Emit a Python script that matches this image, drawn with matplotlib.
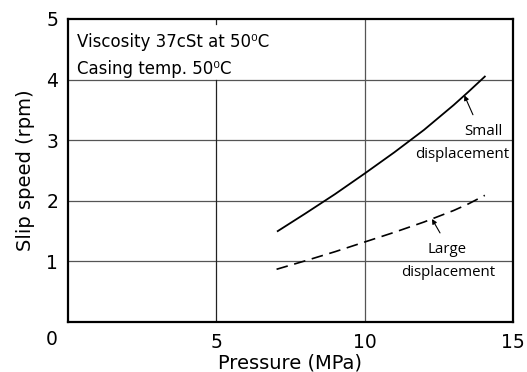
import matplotlib
matplotlib.use("Agg")
import matplotlib.pyplot as plt

# values
small_p = [7.07, 8.0, 9.0, 10.0, 11.0, 12.0, 13.0, 13.5, 14.05]
small_v = [1.50, 1.79, 2.11, 2.45, 2.80, 3.17, 3.58, 3.80, 4.05]
large_p = [7.03, 8.0, 9.0, 10.0, 11.0, 12.0, 13.0, 13.5, 14.05]
large_v = [0.87, 1.01, 1.16, 1.32, 1.48, 1.65, 1.84, 1.95, 2.09]
x_ticks = [5, 10, 15]
y_ticks = [1, 2, 3, 4, 5]

plt.rcParams['font.family'] = ['DejaVu Sans']

fig = plt.figure(figsize=(5.27, 3.72), dpi=100)
ax = fig.add_axes([68 / 527, 1 - 322 / 372, 445 / 527, 303 / 372])
ax.set_xlim(0, 15)
ax.set_ylim(0, 5)

# grid lines (x=5 line hidden behind the note box between 4 and 5)
for y in [1, 2, 3, 4]:
    ax.axhline(y, color='#555555', lw=0.9, zorder=1)
ax.axvline(5, color='#222222', lw=0.9, ymax=0.8, zorder=1)
ax.axvline(5, color='#222222', lw=0.9, ymin=0.985, zorder=1)
ax.axvline(10, color='#555555', lw=0.9, zorder=1)

ax.plot(small_p, small_v, color='black', lw=1.3, zorder=3)
ax.plot(large_p, large_v, color='black', lw=1.2, linestyle=(0, (7, 4)), zorder=3)

ax.set_xticks(x_ticks)
ax.set_yticks(y_ticks)
ax.tick_params(length=0, labelsize=13.5)
ax.tick_params(axis='x', pad=8)
ax.tick_params(axis='y', pad=7)
ax.annotate('0', xy=(0, 0), xytext=(-12, -6), textcoords='offset points',
            ha='center', va='top', fontsize=13.5)
for s in ax.spines.values():
    s.set_linewidth(1.6)

ax.set_xlabel('Pressure (MPa)', fontsize=14, labelpad=1)
ax.set_ylabel('Slip speed (rpm)', fontsize=14, labelpad=8)

ax.text(0.3, 4.62, 'Viscosity 37cSt at 50⁰C', fontsize=12, va='center')
ax.text(0.3, 4.17, 'Casing temp. 50⁰C', fontsize=12, va='center')

lab = dict(fontsize=10.8, ha='center', va='center', family=['Open Sans', 'DejaVu Sans'])
ax.text(13.99, 3.15, 'Small', **lab)
ax.text(13.28, 2.76, 'displacement', **lab)
ax.text(12.76, 1.19, 'Large', **lab)
ax.text(12.82, 0.81, 'displacement', **lab)

arr = dict(arrowstyle='-|>', lw=0.8, color='black', mutation_scale=7, shrinkA=0, shrinkB=0)
ax.annotate('', xy=(13.36, 3.74), xytext=(13.65, 3.42), arrowprops=arr)
ax.annotate('', xy=(12.27, 1.70), xytext=(12.54, 1.47), arrowprops=arr)

fig.savefig('out.png', dpi=100)
